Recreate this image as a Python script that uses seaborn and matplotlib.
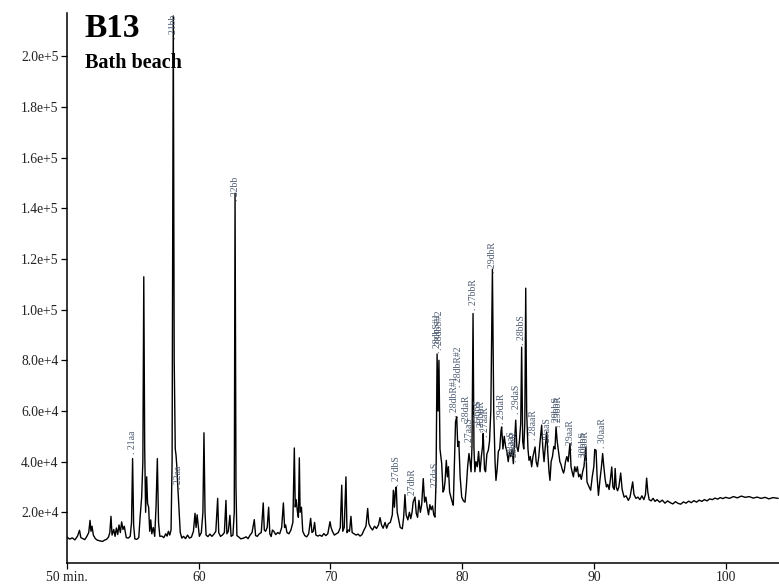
import numpy as np
import pandas as pd
import matplotlib
matplotlib.use("Agg")
import matplotlib.pyplot as plt
from matplotlib.ticker import FuncFormatter
import seaborn as sns

# Retention time (min) and detector response (thousands of counts) along the trace
time_min = [
    50.0, 50.2, 50.4, 50.6, 50.8, 50.95, 51.05, 51.2, 51.35, 51.5, 51.65, 51.75, 51.82, 51.9, 52.0,
    52.15, 52.3, 52.5, 52.7, 52.85, 53.0, 53.15, 53.25, 53.34, 53.42, 53.55, 53.65, 53.75, 53.85,
    53.95, 54.05, 54.15, 54.25, 54.35, 54.5, 54.65, 54.8, 54.9, 54.98, 55.06, 55.15, 55.3, 55.45,
    55.55, 55.67, 55.76, 55.83, 55.9, 55.97, 56.05, 56.12, 56.2, 56.28, 56.36, 56.44, 56.55, 56.66,
    56.76, 56.86, 56.95, 57.05, 57.2, 57.35, 57.5, 57.6, 57.7, 57.8, 57.9, 57.98, 58.07, 58.14,
    58.22, 58.28, 58.34, 58.4, 58.5, 58.6, 58.72, 58.85, 59.0, 59.15, 59.3, 59.45, 59.6, 59.72,
    59.8, 59.88, 59.95, 60.05, 60.2, 60.32, 60.4, 60.48, 60.56, 60.7, 60.85, 61.0, 61.15, 61.3,
    61.44, 61.52, 61.65, 61.8, 61.95, 62.07, 62.14, 62.25, 62.37, 62.46, 62.6, 62.7, 62.76, 62.83,
    62.9, 63.05, 63.2, 63.4, 63.6, 63.75, 63.9, 64.05, 64.22, 64.32, 64.45, 64.6, 64.75, 64.9,
    64.98, 65.08, 65.2, 65.31, 65.4, 65.5, 65.6, 65.7, 65.85, 66.0, 66.15, 66.3, 66.43, 66.52,
    66.6, 66.7, 66.85, 67.0, 67.15, 67.26, 67.33, 67.4, 67.5, 67.57, 67.64, 67.7, 67.8, 67.9,
    68.05, 68.2, 68.35, 68.5, 68.6, 68.7, 68.8, 68.9, 69.05, 69.2, 69.35, 69.5, 69.65, 69.8,
    69.97, 70.05, 70.15, 70.3, 70.45, 70.6, 70.75, 70.86, 70.94, 71.05, 71.18, 71.26, 71.35, 71.45,
    71.56, 71.65, 71.8, 71.95, 72.1, 72.25, 72.4, 72.55, 72.7, 72.83, 72.92, 73.05, 73.2, 73.35,
    73.5, 73.65, 73.77, 73.88, 74.0, 74.15, 74.27, 74.4, 74.55, 74.7, 74.78, 74.86, 74.93, 75.0,
    75.07, 75.15, 75.3, 75.46, 75.56, 75.66, 75.75, 75.88, 76.0, 76.1, 76.2, 76.28, 76.42, 76.52,
    76.62, 76.72, 76.83, 76.93, 77.05, 77.15, 77.25, 77.35, 77.45, 77.55, 77.65, 77.75, 77.85,
    77.94, 78.02, 78.1, 78.17, 78.24, 78.32, 78.45, 78.55, 78.63, 78.7, 78.8, 78.88, 78.96, 79.05,
    79.15, 79.25, 79.33, 79.42, 79.5, 79.59, 79.67, 79.75, 79.85, 79.97, 80.1, 80.22, 80.32, 80.42,
    80.52, 80.6, 80.68, 80.75, 80.83, 80.9, 80.97, 81.05, 81.15, 81.25, 81.36, 81.46, 81.55, 81.6,
    81.7, 81.78, 81.88, 81.99, 82.08, 82.18, 82.3, 82.4, 82.5, 82.57, 82.66, 82.75, 82.85, 82.95,
    83.0, 83.1, 83.2, 83.3, 83.4, 83.5, 83.6, 83.7, 83.8, 83.89, 83.98, 84.07, 84.15, 84.25, 84.35,
    84.45, 84.52, 84.6, 84.68, 84.76, 84.83, 84.9, 85.0, 85.08, 85.18, 85.28, 85.38, 85.54, 85.62,
    85.72, 85.82, 85.92, 86.04, 86.12, 86.22, 86.3, 86.42, 86.5, 86.6, 86.67, 86.76, 86.86, 86.96,
    87.05, 87.13, 87.22, 87.32, 87.42, 87.5, 87.6, 87.7, 87.76, 87.85, 87.95, 88.05, 88.19, 88.27,
    88.35, 88.45, 88.55, 88.65, 88.75, 88.85, 88.95, 89.05, 89.15, 89.25, 89.4, 89.48, 89.6, 89.76,
    89.88, 90.0, 90.07, 90.17, 90.25, 90.35, 90.47, 90.58, 90.67, 90.76, 90.86, 90.96, 91.06,
    91.16, 91.26, 91.36, 91.45, 91.55, 91.62, 91.7, 91.8, 91.9, 92.04, 92.15, 92.3, 92.45, 92.62,
    92.75, 92.85, 92.95, 93.05, 93.2, 93.35, 93.5, 93.65, 93.8, 93.92, 94.01, 94.1, 94.2, 94.35,
    94.5, 94.65, 94.8, 95.0, 95.2, 95.4, 95.6, 95.8, 96.0, 96.2, 96.4, 96.6, 96.8, 97.0, 97.2,
    97.4, 97.6, 97.8, 98.0, 98.2, 98.4, 98.6, 98.8, 99.0, 99.2, 99.4, 99.6, 99.8, 100.0, 100.3,
    100.6, 100.9, 101.2, 101.5, 101.8, 102.1, 102.4, 102.7, 103.0, 103.3, 103.6, 104.0,
]
signal_k = [
    10.2, 9.4, 9.9, 9.1, 10.6, 12.9, 10.0, 9.6, 9.2, 10.4, 12.0, 16.8, 12.5, 14.5, 11.0,
    9.6, 9.0, 8.7, 8.5, 9.0, 9.3, 10.2, 12.0, 18.4, 11.0, 13.2, 10.5, 13.8, 11.2,
    15.0, 12.0, 16.2, 13.2, 14.5, 10.0, 9.8, 10.5, 16.0, 41.2, 15.0, 9.5, 9.3, 10.0,
    18.0, 26.0, 40.0, 113.0, 45.0, 20.0, 34.0, 23.4, 22.0, 12.5, 17.0, 11.5, 14.0, 10.5,
    22.0, 41.2, 16.0, 10.5, 10.6, 10.0, 11.5, 10.6, 12.5, 11.0, 13.0, 40.0, 216.0, 80.0,
    45.0, 42.5, 38.0, 31.5, 22.0, 12.0, 9.8, 10.5, 9.6, 11.0, 9.8, 10.2, 12.5, 19.6,
    14.0, 19.0, 15.5, 10.5, 12.0, 20.0, 51.4, 20.0, 11.0, 10.4, 11.4, 10.5, 11.3, 12.5,
    25.5, 12.0, 10.5, 11.0, 12.0, 24.7, 11.5, 12.5, 18.8, 10.5, 11.0, 20.0, 146.0, 30.0,
    10.8, 10.2, 9.5, 9.8, 10.3, 9.6, 11.0, 12.0, 17.1, 10.8, 10.5, 11.5, 12.0, 23.7,
    13.0, 12.5, 14.0, 22.0, 11.5, 10.4, 13.0, 12.5, 11.2, 12.0, 11.5, 14.0, 23.7, 14.0,
    15.0, 12.0, 11.5, 13.0, 16.0, 45.4, 22.1, 25.0, 20.0, 18.0, 41.5, 20.0, 22.0, 12.5,
    10.8, 10.3, 11.5, 17.6, 12.0, 12.5, 16.0, 11.0, 10.6, 11.0, 10.5, 11.6, 10.8, 11.5,
    16.3, 14.0, 12.5, 11.0, 11.5, 12.0, 14.0, 30.7, 12.5, 14.0, 34.0, 12.0, 13.0, 12.5,
    18.4, 12.0, 11.5, 11.0, 11.4, 10.6, 11.2, 13.0, 14.5, 21.5, 15.5, 14.0, 13.0, 14.5,
    13.6, 15.0, 17.9, 15.0, 13.7, 16.0, 13.7, 15.5, 16.0, 19.0, 28.7, 22.0, 28.0, 30.0,
    20.0, 18.0, 14.0, 13.5, 18.0, 27.0, 19.0, 17.0, 20.0, 17.5, 20.0, 24.0, 26.0, 19.5,
    18.0, 24.7, 20.0, 23.0, 33.3, 24.0, 26.0, 22.0, 19.0, 23.0, 21.0, 22.5, 19.0,
    18.1, 32.6, 82.5, 60.0, 80.0, 45.0, 39.2, 28.0, 29.0, 32.0, 40.5, 34.0, 38.0, 28.0,
    26.0, 24.0, 22.8, 40.0, 55.7, 57.7, 46.0, 48.0, 34.0, 26.0, 24.5, 24.0, 30.0, 38.0,
    43.2, 40.0, 36.0, 46.0, 98.5, 45.0, 36.0, 40.0, 38.0, 44.0, 36.0, 42.0, 46.0, 51.1,
    37.0, 36.0, 43.0, 44.5, 48.0, 60.0, 116.0, 60.0, 40.0, 32.6, 37.0, 44.0, 45.0, 52.0,
    53.7, 45.0, 50.0, 46.0, 44.0, 40.0, 44.0, 42.0, 45.0, 39.2, 48.0, 56.4, 46.0, 44.0, 48.0,
    55.0, 85.2, 48.0, 45.0, 55.0, 108.5, 60.0, 45.0, 40.5, 42.0, 38.0, 42.0, 45.8, 40.0,
    38.0, 42.0, 48.0, 54.4, 46.0, 40.0, 45.0, 51.7, 44.0, 36.0, 32.6, 40.0, 42.0, 46.0,
    45.0, 53.7, 48.0, 44.0, 40.0, 39.0, 37.0, 35.5, 36.6, 40.0, 42.0, 40.0, 47.2, 38.0,
    36.0, 34.0, 38.0, 36.0, 38.0, 34.0, 35.0, 33.0, 36.0, 38.0, 45.8, 32.0, 30.5, 28.7,
    34.0, 38.0, 44.8, 44.5, 34.0, 26.7, 33.0, 38.0, 43.2, 38.0, 33.0, 30.0, 31.0,
    29.0, 33.0, 37.9, 30.0, 29.0, 37.3, 30.0, 28.5, 30.0, 35.5, 29.0, 26.0, 26.5, 24.7,
    26.0, 29.0, 32.0, 27.0, 25.5, 26.0, 25.0, 26.5, 25.0, 27.0, 33.5, 28.0, 25.0, 24.5,
    25.5, 24.3, 25.0, 24.0, 24.8, 23.6, 24.5, 23.8, 23.3, 24.2, 23.5, 23.2, 24.1, 23.6, 24.4,
    23.8, 24.6, 24.0, 24.8, 24.3, 25.0, 24.5, 25.3, 25.0, 25.6, 25.2, 25.8, 25.4, 25.9, 25.5,
    26.2, 25.7, 26.4, 25.9, 26.2, 25.6, 26.0, 25.5, 25.9, 25.3, 25.8, 25.5,
]

# Compound annotations: retention time, label anchor (thousands of counts), name
peak_time = [54.98, 58.07, 58.45, 62.76, 75.02, 76.25, 77.98, 78.10, 78.30, 79.45, 79.70,
             80.30, 80.55, 80.85, 81.25, 81.45, 81.75, 82.30, 83.00, 83.75, 83.95, 84.10,
             84.52, 85.45, 86.45, 87.15, 87.35, 88.25, 89.20, 89.40, 90.67]
peak_anchor_k = [43.0, 207.0, 29.0, 143.0, 30.5, 24.7, 27.9, 82.9, 84.0, 57.6, 69.4,
                 54.0, 45.7, 99.8, 52.4, 51.6, 49.6, 114.5, 55.0, 40.5, 39.8, 59.0,
                 86.0, 48.5, 45.7, 53.6, 53.6, 44.6, 39.8, 39.8, 45.3]
peak_name = ["21aa", "21bb", "22aa", "22bb", "27dbS", "27dbR", "27daS", "28dbS#1", "28dbS#2",
             "28dbR#1", "28dbR#2", "28daR", "27aaS", "27bbR", "27bbS", "28bbR", "27aaR",
             "29dbR", "29daR", "28aaS", "29abR", "29daS", "28bbS", "28aaR", "29aaS", "29bbS",
             "29bbR", "29aaR", "30bbS", "30bbR", "30aaR"]

x_ticks = [50, 60, 70, 80, 90, 100]
x_tick_labels = ["50 min.", "60", "70", "80", "90", "100"]
y_ticks = [2e4, 4e4, 6e4, 8e4, 1e5, 1.2e5, 1.4e5, 1.6e5, 1.8e5, 2e5]

trace = pd.DataFrame({"time": time_min, "signal": np.array(signal_k) * 1000.0})

sns.set_style("ticks")
plt.rcParams["font.family"] = ["Liberation Serif", "DejaVu Serif"]

fig = plt.figure(figsize=(7.79, 5.87), dpi=100)
ax = fig.add_axes([0.086, 0.041, 0.914, 0.937])

sns.lineplot(data=trace, x="time", y="signal", ax=ax, color="black",
             linewidth=1.0, estimator=None, sort=False)

ax.set_xlim(50, 104.06)
ax.set_ylim(0, 2.172e5)
ax.set_xticks(x_ticks)
ax.set_xticklabels(x_tick_labels)
ax.set_yticks(y_ticks)


def sci_label(v, _pos):
    exp = int(np.floor(np.log10(v)))
    return f"{v / 10 ** exp:.1f}e+{exp}"


ax.yaxis.set_major_formatter(FuncFormatter(sci_label))
ax.tick_params(axis="both", labelsize=9.8, length=4, width=0.9, color="black",
               labelcolor="#222222", direction="out", pad=2)
ax.set_xlabel("")
ax.set_ylabel("")
for side in ("top", "right"):
    ax.spines[side].set_visible(False)
for side in ("left", "bottom"):
    ax.spines[side].set_linewidth(1.1)
    ax.spines[side].set_color("black")

for t, a, name in zip(peak_time, peak_anchor_k, peak_name):
    ax.text(t, a * 1000.0, ". " + name, rotation=90, ha="center", va="bottom",
            fontsize=7, color="#4f5d72", clip_on=False)

fig.text(0.109, 0.978, "B13", fontsize=24, fontweight="bold", va="top", ha="left",
         color="black")
fig.text(0.109, 0.91, "Bath beach", fontsize=14.5, fontweight="bold", va="top",
         ha="left", color="black")

fig.savefig("out.png", dpi=100)
